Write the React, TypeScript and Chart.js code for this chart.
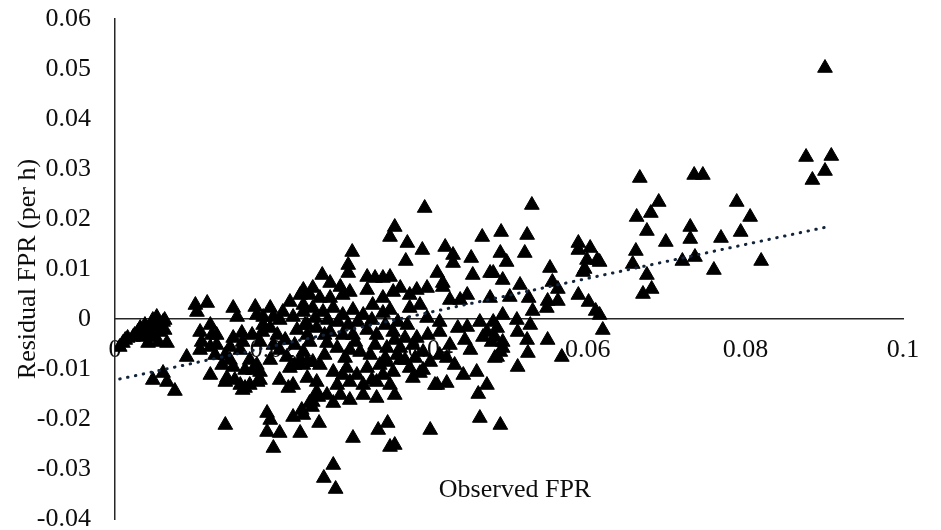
import { useEffect, useRef } from 'react';
import { Chart, registerables } from 'chart.js';

Chart.register(...registerables);

// Observed false positive rate (x) and its residual (y), one entry per observation.
const observedFpr = [
  0.0006, 0.0010, 0.0013, 0.0016, 0.0023, 0.0025, 0.0029, 0.0032, 0.0036, 0.0038,
  0.0041, 0.0042, 0.0047, 0.0048, 0.0048, 0.0053, 0.0055, 0.0057, 0.0057, 0.0061,
  0.0063, 0.0063, 0.0066, 0.0048, 0.0061, 0.0066, 0.0076, 0.0091, 0.0102, 0.0117,
  0.0104, 0.0108, 0.0110, 0.0108, 0.0121, 0.0123, 0.0121, 0.0129, 0.0129, 0.0121,
  0.0140, 0.0152, 0.0136, 0.0146, 0.0140, 0.0150, 0.0146, 0.0161, 0.0162, 0.0150,
  0.0155, 0.0150, 0.0142, 0.0159, 0.0140, 0.0178, 0.0180, 0.0197, 0.0201, 0.0213,
  0.0188, 0.0222, 0.0235, 0.0239, 0.0226, 0.0239, 0.0165, 0.0171, 0.0171, 0.0180,
  0.0184, 0.0181, 0.0174, 0.0184, 0.0187, 0.0188, 0.0197, 0.0206, 0.0201, 0.0218,
  0.0222, 0.0228, 0.0220, 0.0239, 0.0239, 0.0231, 0.0241, 0.0244, 0.0175, 0.0184,
  0.0162, 0.0209, 0.0193, 0.0197, 0.0193, 0.0209, 0.0201, 0.0226, 0.0237, 0.0247,
  0.0235, 0.0258, 0.0259, 0.0250, 0.0247, 0.0260, 0.0273, 0.0289, 0.0298, 0.0320,
  0.0340, 0.0353, 0.0362, 0.0374, 0.0383, 0.0396, 0.0416, 0.0425, 0.0438, 0.0447,
  0.0476, 0.0239, 0.0251, 0.0264, 0.0277, 0.0289, 0.0302, 0.0315, 0.0327, 0.0340,
  0.0349, 0.0374, 0.0387, 0.0396, 0.0412, 0.0435, 0.0447, 0.0463, 0.0472, 0.0485,
  0.0244, 0.0256, 0.0273, 0.0289, 0.0302, 0.0320, 0.0332, 0.0353, 0.0371, 0.0383,
  0.0397, 0.0412, 0.0247, 0.0269, 0.0282, 0.0298, 0.0311, 0.0324, 0.0345, 0.0362,
  0.0378, 0.0391, 0.0412, 0.0421, 0.0244, 0.0260, 0.0277, 0.0294, 0.0307, 0.0320,
  0.0336, 0.0353, 0.0374, 0.0387, 0.0244, 0.0256, 0.0282, 0.0298, 0.0315, 0.0332,
  0.0349, 0.0378, 0.0391, 0.0409, 0.0421, 0.0442, 0.0459, 0.0472, 0.0256, 0.0269,
  0.0286, 0.0315, 0.0332, 0.0251, 0.0277, 0.0302, 0.0334, 0.0346, 0.0349, 0.0355,
  0.0400, 0.0463, 0.0489, 0.0277, 0.0265, 0.0280, 0.0406, 0.0461, 0.0511, 0.0567,
  0.0485, 0.0492, 0.0524, 0.0467, 0.0478, 0.0358, 0.0345, 0.0340, 0.0289, 0.0251,
  0.0235, 0.0362, 0.0239, 0.0263, 0.0296, 0.0296, 0.0301, 0.0355, 0.0349, 0.0371,
  0.0369, 0.0390, 0.0393, 0.0409, 0.0416, 0.0419, 0.0429, 0.0429, 0.0452, 0.0454,
  0.0466, 0.0480, 0.0490, 0.0489, 0.0497, 0.0492, 0.0514, 0.0523, 0.0520, 0.0529,
  0.0552, 0.0320, 0.0330, 0.0340, 0.0349, 0.0273, 0.0286, 0.0251, 0.0501, 0.0525,
  0.0530, 0.0555, 0.0562, 0.0549, 0.0548, 0.0562, 0.0588, 0.0603, 0.0599, 0.0612,
  0.0596, 0.0588, 0.0601, 0.0610, 0.0619, 0.0492, 0.0510, 0.0527, 0.0482, 0.0492,
  0.0511, 0.0523, 0.0549, 0.0489, 0.0482, 0.0588, 0.0594, 0.0476, 0.0480, 0.0615,
  0.0615, 0.0901, 0.0877, 0.0909, 0.0901, 0.0885, 0.0666, 0.0735, 0.0746, 0.0690,
  0.0680, 0.0662, 0.0675, 0.0699, 0.0661, 0.0657, 0.0675, 0.0681, 0.0670, 0.0730,
  0.0730, 0.0720, 0.0736, 0.0760, 0.0769, 0.0789, 0.0806, 0.0794, 0.0820,
  0.0254, 0.0270, 0.0283, 0.0296, 0.0308, 0.0326, 0.0343, 0.0359, 0.0305, 0.0330,
  0.0355, 0.0368, 0.0266, 0.0292, 0.0343, 0.0368, 0.0381, 0.0400, 0.0425, 0.0444,
  0.0451, 0.0431, 0.0266, 0.0326, 0.0355, 0.0298, 0.0127, 0.0159, 0.0165, 0.0197,
  0.0209, 0.0216, 0.0228, 0.0209, 0.0226,
];

const residualFpr = [
  -0.0056, -0.0048, -0.0042, -0.0038, -0.0036, -0.0032, -0.0026, -0.0018, -0.0036, -0.0012,
  -0.0026, -0.0048, -0.0016, -0.0002, -0.0036, 0.0004, -0.0046, -0.0012, -0.0026, -0.0006,
  -0.0002, -0.0022, -0.0048, -0.0122, -0.0108, -0.0126, -0.0144, -0.0076, 0.0028, 0.0032,
  0.0014, -0.0026, -0.0046, -0.0062, -0.0012, -0.0032, -0.0056, -0.0032, -0.0052, -0.0112,
  -0.0126, -0.0122, -0.0092, -0.0082, -0.0072, -0.0038, -0.0056, -0.0028, -0.0046, 0.0022,
  0.0004, -0.0096, -0.0118, -0.0132, -0.0212, 0.0024, 0.0008, 0.0022, 0.0004, 0.0014,
  0.0004, 0.0034, 0.0048, 0.0058, 0.0004, 0.0014, -0.0138, -0.0132, -0.0082, -0.0092,
  -0.0106, -0.0126, -0.0032, -0.0046, -0.0026, -0.0012, -0.0018, -0.0032, -0.0052, -0.0076,
  -0.0098, -0.0092, -0.0138, -0.0066, -0.0092, -0.0022, -0.0012, -0.0032, -0.0102, -0.0122,
  -0.0142, -0.0002, -0.0188, -0.0202, -0.0226, -0.0228, -0.0258, -0.0196, -0.0182, -0.0168,
  -0.0228, -0.0156, -0.0208, -0.0176, 0.0048, 0.0042, 0.0042, 0.0048, 0.0054, 0.0058,
  0.0042, 0.0054, 0.0062, 0.0048, 0.0058, 0.0062, 0.0064, 0.0038, 0.0038, 0.0048,
  0.0042, 0.0028, 0.0022, 0.0014, 0.0022, 0.0008, 0.0018, 0.0008, 0.0028, 0.0012,
  0.0018, 0.0022, 0.0028, 0.0002, -0.0006, -0.0018, -0.0016, -0.0006, -0.0026, -0.0018,
  -0.0012, -0.0018, -0.0026, -0.0032, -0.0032, -0.0022, -0.0032, -0.0026, -0.0012, -0.0038,
  -0.0032, -0.0026, -0.0046, -0.0048, -0.0058, -0.0062, -0.0066, -0.0072, -0.0058, -0.0058,
  -0.0052, -0.0066, -0.0072, -0.0078, -0.0086, -0.0092, -0.0106, -0.0098, -0.0112, -0.0098,
  -0.0092, -0.0106, -0.0098, -0.0108, -0.0118, -0.0126, -0.0132, -0.0126, -0.0132, -0.0126,
  -0.0132, -0.0118, -0.0102, -0.0132, -0.0128, -0.0112, -0.0106, -0.0132, -0.0146, -0.0152,
  -0.0152, -0.0152, -0.0158, -0.0166, -0.0168, -0.0238, -0.0222, -0.0208, -0.0256, -0.0252,
  -0.0222, -0.0198, -0.0212, -0.0292, -0.0318, -0.0340, -0.0132, -0.0150, -0.0096, -0.0076,
  -0.0076, -0.0058, -0.0068, -0.0036, -0.0046, -0.0072, -0.0086, -0.0112, -0.0112, -0.0086,
  -0.0082, -0.0082, -0.0192, 0.0088, 0.0108, 0.0092, 0.0134, 0.0184, 0.0164, 0.0152,
  0.0116, 0.0138, 0.0222, 0.0092, 0.0072, 0.0144, 0.0128, 0.0112, 0.0122, 0.0088,
  0.0164, 0.0092, 0.0174, 0.0132, 0.0114, 0.0078, 0.0068, 0.0168, 0.0132, 0.0228,
  0.0102, 0.0084, 0.0082, 0.0082, 0.0084, 0.0072, 0.0064, 0.0062, 0.0044, 0.0042,
  0.0016, 0.0074, 0.0060, 0.0036, 0.0022, 0.0036, 0.0152, 0.0142, 0.0118, 0.0118,
  0.0100, 0.0048, 0.0034, 0.0016, -0.0022, 0.0008, -0.0002, -0.0012, -0.0036, -0.0046,
  -0.0026, -0.0042, -0.0042, -0.0066, -0.0078, 0.0138, 0.0094, 0.0092, -0.0006, 0.0114,
  0.0008, 0.0502, 0.0324, 0.0326, 0.0296, 0.0278, 0.0282, 0.0288, 0.0288, 0.0234,
  0.0212, 0.0204, 0.0176, 0.0154, 0.0136, 0.0110, 0.0088, 0.0060, 0.0050, 0.0184,
  0.0160, 0.0116, 0.0124, 0.0098, 0.0162, 0.0234, 0.0204, 0.0174, 0.0116,
  0.0002, -0.0002, -0.0006, -0.0012, -0.0006, -0.0002, -0.0012, -0.0006, -0.0046, -0.0052,
  -0.0042, -0.0038, -0.0072, -0.0078, -0.0078, -0.0082, -0.0078, -0.0086, -0.0052, -0.0042,
  -0.0062, -0.0092, -0.0032, -0.0122, -0.0152, -0.0162, -0.0072, -0.0062, -0.0102, -0.0082,
  -0.0062, -0.0042, -0.0052, -0.0122, -0.0132,
];

// Linear trend of the residuals, from the smallest to the largest observed value.
const trendObserved = [0.0006, 0.0909];
const trendResidual = [-0.012, 0.0186];

const xTickValues = [0, 0.02, 0.04, 0.06, 0.08, 0.1];
const xTickLabels = ['0', '0.02', '0.04', '0.06', '0.08', '0.1'];
const yTickValues = [-0.04, -0.03, -0.02, -0.01, 0, 0.01, 0.02, 0.03, 0.04, 0.05, 0.06];
const yTickLabels = ['-0.04', '-0.03', '-0.02', '-0.01', '0', '0.01', '0.02', '0.03', '0.04', '0.05', '0.06'];

const xTitle = 'Observed FPR';
const yTitle = 'Residual FPR (per h)';

const FONT_FAMILY = "'Liberation Serif', 'Times New Roman', serif";
const FONT_SIZE = 26;
const TEXT_COLOR = '#0d0d0d';
const AXIS_COLOR = '#262626';

// The x-axis title sits inside the plot area, near its lower edge.
const innerXTitle = {
  id: 'innerXTitle',
  afterDraw(chart: any) {
    const { ctx, chartArea } = chart;
    ctx.save();
    ctx.font = `${FONT_SIZE}px ${FONT_FAMILY}`;
    ctx.fillStyle = TEXT_COLOR;
    ctx.textAlign = 'center';
    ctx.textBaseline = 'middle';
    ctx.fillText(xTitle, (chartArea.left + chartArea.right) / 2 + 6, chartArea.bottom - 29);
    ctx.restore();
  },
};

export default function App() {
  const canvasRef = useRef<HTMLCanvasElement>(null);

  useEffect(() => {
    const canvas = canvasRef.current;
    if (!canvas) return;

    const points = observedFpr.map((x, i) => ({ x, y: residualFpr[i] }));
    const trend = trendObserved.map((x, i) => ({ x, y: trendResidual[i] }));
    const font = { family: FONT_FAMILY, size: FONT_SIZE };

    const chart = new Chart(canvas, {
      type: 'scatter',
      data: {
        datasets: [
          {
            type: 'line',
            label: 'Linear trend',
            data: trend,
            borderColor: '#13243a',
            borderWidth: 3,
            borderDash: [0.5, 7.5],
            borderCapStyle: 'round',
            pointRadius: 0,
            fill: false,
            order: 0,
          } as any,
          {
            type: 'scatter',
            label: 'Residual',
            data: points,
            pointStyle: 'triangle',
            pointRadius: 8.5,
            pointHoverRadius: 8.5,
            backgroundColor: '#000',
            borderColor: '#000',
            borderWidth: 1,
            order: 1,
          },
        ],
      },
      options: {
        responsive: false,
        animation: false,
        events: [],
        layout: { padding: { top: 19, right: 38, bottom: 11, left: 0 } },
        plugins: {
          legend: { display: false },
          tooltip: { enabled: false },
        },
        scales: {
          x: {
            type: 'linear',
            position: { y: 0 } as any,
            min: 0,
            max: 0.1,
            afterBuildTicks: (scale: any) => {
              scale.ticks = xTickValues.map((value) => ({ value }));
            },
            ticks: {
              callback: (_v: any, i: number) => xTickLabels[i],
              font,
              color: TEXT_COLOR,
              padding: 16,
              maxRotation: 0,
              autoSkip: false,
            },
            grid: { display: false, drawTicks: false },
            border: { display: true, color: AXIS_COLOR, width: 1.5 },
          },
          y: {
            type: 'linear',
            position: 'left',
            min: -0.04,
            max: 0.06,
            afterBuildTicks: (scale: any) => {
              scale.ticks = yTickValues.map((value) => ({ value }));
            },
            afterFit: (scale: any) => {
              scale.width = 115;
              scale.paddingTop = 0;
              scale.paddingBottom = 0;
            },
            ticks: {
              callback: (_v: any, i: number) => yTickLabels[i],
              font,
              color: TEXT_COLOR,
              padding: 24,
              autoSkip: false,
            },
            title: {
              display: true,
              text: yTitle,
              font,
              color: TEXT_COLOR,
              padding: { top: 13, bottom: 0 },
            },
            grid: { display: false, drawTicks: false },
            border: { display: true, color: AXIS_COLOR, width: 1.5 },
          },
        },
      },
      plugins: [innerXTitle],
    });

    return () => chart.destroy();
  }, []);

  return (
    <div
      style={{
        position: 'absolute',
        left: 0,
        top: 0,
        width: 941,
        height: 530,
        background: '#fff',
      }}
    >
      <canvas ref={canvasRef} width={941} height={530} style={{ display: 'block' }} />
    </div>
  );
}
